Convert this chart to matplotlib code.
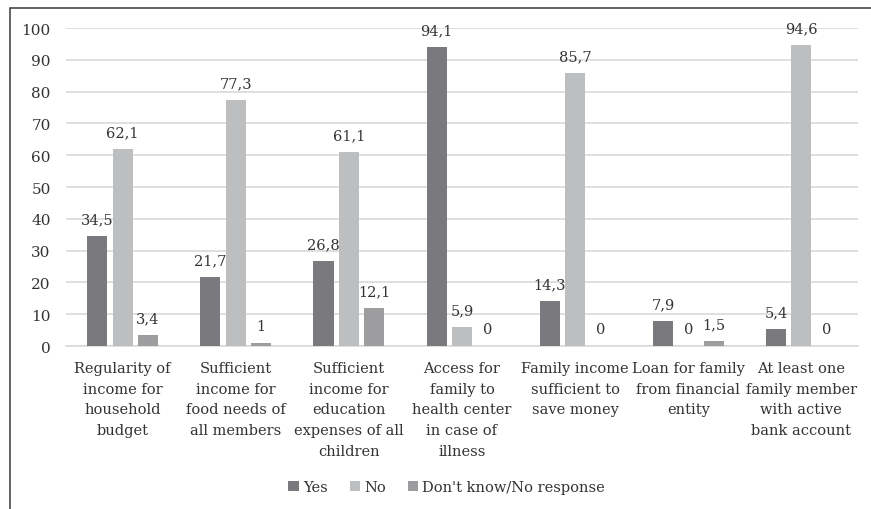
import matplotlib.pyplot as plt
import numpy as np
from matplotlib.patches import Rectangle

categories = [
    "Regularity of\nincome for\nhousehold\nbudget",
    "Sufficient\nincome for\nfood needs of\nall members",
    "Sufficient\nincome for\neducation\nexpenses of all\nchildren",
    "Access for\nfamily to\nhealth center\nin case of\nillness",
    "Family income\nsufficient to\nsave money",
    "Loan for family\nfrom financial\nentity",
    "At least one\nfamily member\nwith active\nbank account",
]
yes = [34.5, 21.7, 26.8, 94.1, 14.3, 7.9, 5.4]
no = [62.1, 77.3, 61.1, 5.9, 85.7, 0, 94.6]
dont_know = [3.4, 1, 12.1, 0, 0, 1.5, 0]

series = [("Yes", yes, "#7a7a7e"), ("No", no, "#bdbec0"),
          ("Don't know/No response", dont_know, "#9d9da0")]

plt.rcParams['font.family'] = ['DejaVu Serif']
text_color = "#333333"

fig = plt.figure(figsize=(8.71, 5.10), dpi=100)
ax = fig.add_axes([0.0758, 0.3196, 0.9092, 0.6235])

x = np.arange(len(categories))
step = 0.224
width = 0.177
for i, (name, vals, color) in enumerate(series):
    pos = x + (i - 1) * step
    bars = ax.bar(pos, vals, width, color=color, label=name, zorder=3)
    for b, v in zip(bars, vals):
        ax.annotate(f"{v:g}".replace('.', ','),
                    (b.get_x() + b.get_width() / 2, v),
                    xytext=(0, 7), textcoords="offset points",
                    ha="center", va="bottom", fontsize=10.5, color=text_color)

ax.set_xlim(-0.5, len(categories) - 0.5)
ax.set_ylim(0, 100)
ax.set_yticks(range(0, 101, 10))
ax.grid(axis="y", color="#d9d9d9", linewidth=1.2, zorder=0)
for s in ["top", "right", "left"]:
    ax.spines[s].set_visible(False)
ax.spines["bottom"].set_color("#d9d9d9")
ax.spines["bottom"].set_linewidth(1.2)
ax.tick_params(axis="both", length=0, colors=text_color, labelsize=10.5)
ax.tick_params(axis="y", pad=11, labelsize=11)
ax.set_xticks(x)
ax.set_xticklabels(categories, linespacing=1.6)
ax.tick_params(axis="x", pad=11)

fig.legend(loc="center", bbox_to_anchor=(0.513, 0.043), ncol=3, frameon=False,
           fontsize=10.5, labelcolor=text_color, handlelength=0.7,
           handleheight=0.7, handletextpad=0.3, columnspacing=1.5)

# chart frame (only left and top edges fall inside the image)
fig.patches.append(Rectangle((9.5 / 871, -0.1), 1.2, 1.1 - 8.5 / 510,
                             transform=fig.transFigure, fill=False,
                             edgecolor="#4a4a4a", linewidth=1.2))

fig.savefig("out.png", dpi=100)
